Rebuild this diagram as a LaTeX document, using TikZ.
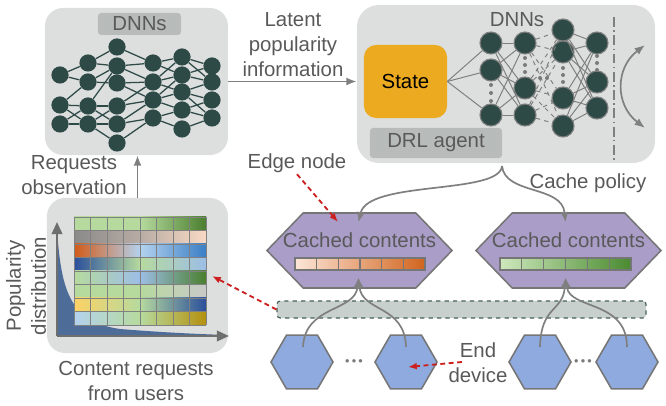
\documentclass[tikz,border=0pt]{standalone}
\usepackage{fontspec}
\setmainfont{Liberation Sans}
\usetikzlibrary{arrows.meta, calc, positioning, shapes.geometric, shapes.symbols}

\definecolor{panelgray}{HTML}{DDDFDF}
\definecolor{labelgray}{HTML}{B7BCBA}
\definecolor{txtgray}{HTML}{595959}
\definecolor{nodeteal}{HTML}{2E4A47}
\definecolor{linegray}{HTML}{7F7F7F}
\definecolor{dotgray}{HTML}{7A7A7A}
\definecolor{stateorange}{HTML}{EBAA1F}
\definecolor{edgepurple}{HTML}{AA9DC7}
\definecolor{hexborder}{HTML}{767676}
\definecolor{devblue}{HTML}{8EAADE}
\definecolor{busgray}{HTML}{C8D0CD}
\definecolor{busborder}{HTML}{46605C}
\definecolor{arrowred}{HTML}{CC2020}
\definecolor{axisgray}{HTML}{6E6E6E}
\definecolor{tailblue}{HTML}{4E6C98}
% heat map colours
\definecolor{hmGL}{HTML}{B6DA9E}
\definecolor{hmGD}{HTML}{4A7F2E}
\definecolor{hmGray}{HTML}{8A8A8A}
\definecolor{hmGrayM}{HTML}{B8ACA4}
\definecolor{hmPeach}{HTML}{F9D9C4}
\definecolor{hmOrange}{HTML}{D25A18}
\definecolor{hmBlueL}{HTML}{B4D2EE}
\definecolor{hmBlue}{HTML}{3B7FC6}
\definecolor{hmBlueD}{HTML}{2A4F9C}
\definecolor{hmBlueM}{HTML}{9DBEE6}
\definecolor{hmGrayL}{HTML}{C9C9C9}
\definecolor{hmYellow}{HTML}{FCD265}
\definecolor{hmYellowD}{HTML}{B4900E}
% cache bars
\definecolor{barPeach}{HTML}{FCE6D8}
\definecolor{barPeachM}{HTML}{F2B690}
\definecolor{barOrange}{HTML}{D2641E}
\definecolor{barGL}{HTML}{CDE8BC}
\definecolor{barGM}{HTML}{A8D490}
\definecolor{barGD}{HTML}{4A8A30}

\begin{document}
\begin{tikzpicture}[x=0.025cm, y=-0.025cm,
	font=\fontsize{14.5}{17.8}\selectfont,
		panel/.style = {rectangle, rounded corners=0.45cm, fill=panelgray, inner sep=0pt},
			tag/.style = {rectangle, rounded corners=0.08cm, fill=labelgray, text=txtgray, inner sep=0pt},
	 caption/.style = {text=txtgray, align=center, inner sep=1pt},
		neuron/.style = {circle, fill=nodeteal, inner sep=0pt, minimum size=0.43cm},
	 aneuron/.style = {neuron, draw=linegray, line width=0.8pt, minimum size=0.55cm},
	 netline/.style = {draw=nodeteal, line width=0.9pt},
		 aline/.style = {draw=linegray, line width=0.7pt},
			flow/.style = {draw=linegray, line width=1.2pt, -{Latex[length=0.26cm, width=0.2cm]}},
	 pointer/.style = {draw=arrowred, line width=1.3pt, dash pattern=on 3.5pt off 2.5pt,
										 -{Latex[length=0.22cm, width=0.17cm]}},
	 edgehex/.style = {signal, signal to=west and east, signal pointer angle=92,
										 draw=hexborder, line width=1.1pt, fill=edgepurple,
										 minimum width=4.625cm, minimum height=1.875cm, inner sep=0pt},
		device/.style = {regular polygon, regular polygon sides=6, draw=hexborder,
										 line width=1.1pt, fill=devblue, minimum size=1.55cm, inner sep=0pt},
	 moredots/.style = {text=dotgray, font=\fontsize{9}{9}\selectfont, inner sep=0pt},
	gridline/.style = {draw=gray, line width=0.6pt}]

\useasboundingbox (0,0) rectangle (666,406);

%% left: DNNs panel
\node[panel, minimum width=4.575cm, minimum height=3.675cm] (dnnbox) at (136.5,81.5) {};
\node[tag, minimum width=2.075cm, minimum height=0.55cm] (dnnlabel) at (139.5,24) {DNNs};

\foreach \y [count=\i] in {75,105,124}            \node[neuron] (a\i) at (60,\y) {};
\foreach \y [count=\i] in {63,82,106,124}         \node[neuron] (b\i) at (88,\y) {};
\foreach \y [count=\i] in {47,66,83,106,124,143}  \node[neuron] (c\i) at (117,\y) {};
\foreach \y [count=\i] in {63,82,100,118}         \node[neuron] (d\i) at (153,\y) {};
\foreach \y [count=\i] in {57,75,92,110,129}      \node[neuron] (e\i) at (182,\y) {};
\foreach \y [count=\i] in {66,82,100,118}         \node[neuron] (f\i) at (212,\y) {};

\foreach \s/\t in {a1/b1, a1/b2, a2/b2, a2/b3, a2/b4, a3/b3, a3/b4,
									 b1/c1, b1/c2, b2/c2, b2/c3, b3/c2, b3/c4, b3/c5, b4/c4, b4/c5, b4/c6,
									 c1/d1, c2/d1, c2/d2, c3/d2, c3/d3, c4/d2, c4/d3, c5/d3, c5/d4, c6/d4,
									 d1/e1, d1/e2, d2/e1, d2/e2, d2/e3, d3/e2, d3/e3, d3/e4, d4/e4, d4/e5,
									 e1/f1, e1/f2, e2/f1, e2/f2, e3/f2, e3/f3, e3/f4, e4/f3, e4/f4, e5/f4}
	\draw[netline] (\s) -- (\t);

%% left: popularity panel
\node[panel, minimum width=4.525cm, minimum height=3.875cm] (heatbox) at (137.5,275.5) {};
\fill[tailblue] (57,336) -- (57,228) .. controls (61,295) and (72,322) .. (120,329)
								 .. controls (170,333) and (200,334) .. (225,335) -- (225,336) -- cycle;
\foreach \ca/\cb/\cc [count=\r from 0] in {hmGL/hmGL/hmGD, hmGray/hmGrayM/hmPeach,
		hmOrange/hmBlueL/hmBlue, hmBlueD/hmGL/hmBlueM, hmGL/hmBlueM/hmGD,
		hmGL/hmGL/hmGrayL, hmYellow/hmGL/hmBlueD, hmBlueL/hmGL/hmYellowD}
{
	\shade[left color=\ca, right color=\cb] (74,{217+13.5*\r}) rectangle (140,{230.5+13.5*\r});
	\shade[left color=\cb, right color=\cc] (140,{217+13.5*\r}) rectangle (206,{230.5+13.5*\r});
}
\foreach \i in {0,...,8}
{
	\draw[gridline] ({74+16.5*\i},217) -- ({74+16.5*\i},325);
	\draw[gridline] (74,{217+13.5*\i}) -- (206,{217+13.5*\i});
}
\draw[axisgray, line width=1.6pt, -{Triangle[length=0.3cm, width=0.26cm]}] (57,336) -- (57,222);
\draw[axisgray, line width=1.6pt, -{Triangle[length=0.3cm, width=0.26cm]}] (57,336) -- (229,336);

%% right: DRL agent
\node[panel, rounded corners=0.55cm, minimum width=7.45cm, minimum height=3.95cm] (agent) at (506,84) {};
\node[rectangle, rounded corners=0.3cm, fill=stateorange, text=black,
			minimum width=2.075cm, minimum height=1.825cm] (state) at (405.5,81.5) {State};
\node[tag, minimum width=3.3cm, minimum height=0.75cm] (drl) at (436,143) {DRL agent};
\node[caption] (agentdnn) at (517,20) {DNNs};

\foreach \y [count=\i] in {43,70,115}     \node[aneuron] (p\i) at (491,\y) {};
\foreach \y [count=\i] in {43,88,115}     \node[aneuron] (q\i) at (525,\y) {};
\foreach \y [count=\i] in {30,52,98,126}  \node[aneuron] (r\i) at (563,\y) {};
\foreach \y [count=\i] in {43,82,108}     \node[aneuron] (s\i) at (597,\y) {};

\foreach \t in {p1,p2,p3} \draw[aline] (state.east) -- (\t);
\foreach \s in {p1,p2,p3} \foreach \t in {q1,q2,q3} \draw[aline] (\s) -- (\t);
\foreach \s in {q1,q2,q3} \foreach \t in {r1,r2,r3,r4} \draw[aline, dashed] (\s) -- (\t);
\foreach \s in {r1,r2,r3,r4} \foreach \t in {s1,s2,s3} \draw[aline] (\s) -- (\t);
\foreach \x/\y in {491/85, 491/93, 491/101, 525/58, 525/65, 525/72, 563/68, 563/75, 563/82,
									 597/56, 597/63, 597/70, 540/78, 547/78}
	\fill[dotgray] (\x,\y) circle (0.05cm);

\draw[linegray, line width=1.1pt, dash pattern=on 7pt off 2.5pt on 1pt off 2.5pt] (614,17) -- (614,163);
\coordinate (swapA) at (645,45);
\coordinate (swapB) at (645,128);
\draw[linegray, line width=1.2pt, {Latex[length=0.26cm, width=0.2cm]}-{Latex[length=0.26cm, width=0.2cm]}]
	(swapA) .. controls (615,68) and (615,105) .. (swapB);

%% edge nodes and end devices
\node[edgehex] (lhex) at (359.5,250.5) {};
\node[edgehex] (rhex) at (568.5,250.5) {};
\node[caption] (lcache) at (359.5,240) {Cached contents};
\node[caption] (rcache) at (568.5,240) {Cached contents};

\shade[left color=barPeach, middle color=barPeachM, right color=barOrange] (295,258) rectangle (425,270);
\shade[left color=barGL, middle color=barGM, right color=barGD] (500,258) rectangle (631,270);
\foreach \i in {0,...,6}
{
	\draw[hexborder, line width=0.9pt] ({295+21.67*\i},258) -- ({295+21.67*\i},270);
	\draw[hexborder, line width=0.9pt] ({500+21.83*\i},258) -- ({500+21.83*\i},270);
}
\draw[hexborder, line width=0.9pt] (295,258) rectangle (425,270);
\draw[hexborder, line width=0.9pt] (500,258) rectangle (631,270);

\node[rectangle, rounded corners=0.08cm, draw=busborder, dashed, line width=0.8pt, fill=busgray,
			minimum width=9.225cm, minimum height=0.425cm] (bus) at (461.5,309.5) {};

\node[device] (dev1) at (302,362) {};
\node[device] (dev2) at (406,362) {};
\node[device] (dev3) at (540,362) {};
\node[device] (dev4) at (627,362) {};
\node[moredots] (gap1) at (354,363) {\textbullet\,\textbullet\,\textbullet};
\node[moredots] (gap2) at (583,363) {\textbullet\,\textbullet\,\textbullet};

%% captions
\node[caption] (latent)  at (293,45)    {Latent\\popularity\\information};
\node[caption] (reqobs)  at (74,175.5)  {Requests\\observation};
\node[caption, rotate=90] (popdist) at (26,286) {Popularity\\distribution};
\node[caption] (content) at (136,381)   {Content requests\\from users};
\node[caption] (edgetxt) at (297,163)   {Edge node};
\node[caption] (policy)  at (588,183)   {Cache policy};
\node[caption] (enddev)  at (478,363)   {End\\device};

%% connectors
\draw[flow] (heatbox.north) -- (heatbox.north |- dnnbox.south);
\draw[flow] (dnnbox.east) -- (dnnbox.east -| agent.west);

\coordinate (split) at (502,166);
\draw[flow] (split) .. controls (500,195) and (368,180) .. ($(lhex)+(-1,-28)$);
\draw[flow] (split) .. controls (505,195) and (562,185) .. ($(rhex)+(-3,-28)$);

\draw[flow] ($(dev1)+(1,-15)$) .. controls (305,305) and (355,312) .. ($(lhex)+(-1,27)$);
\draw[flow] ($(dev2)+(0,-15)$) .. controls (405,305) and (362,312) .. ($(lhex)+(-1,27)$);
\draw[flow] ($(dev3)+(0,-15)$) .. controls (541,305) and (563,312) .. ($(rhex)+(-3,27)$);
\draw[flow] ($(dev4)+(0,-15)$) .. controls (627,300) and (570,310) .. ($(rhex)+(-3,27)$);

\coordinate (edgetip) at (338,222);
\coordinate (heattip) at (212,276);
\coordinate (devtail) at (462,362);
\coordinate (devtip)  at (408,367);
\draw[pointer] (edgetxt.south) -- (edgetip);
\draw[pointer] (bus.west) -- (heattip);
\draw[pointer] (devtail) -- (devtip);
\end{tikzpicture}
\end{document}
